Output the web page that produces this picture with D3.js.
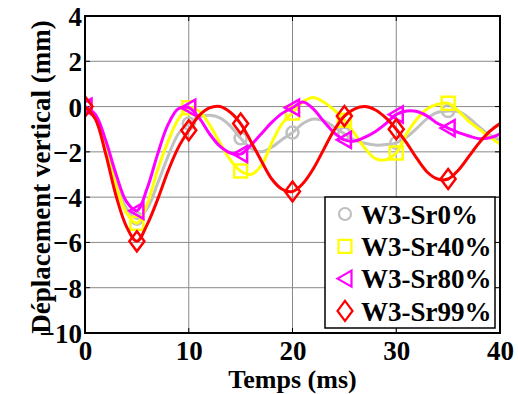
<!DOCTYPE html>
<html><head><meta charset="utf-8">
<script src="https://cdn.jsdelivr.net/npm/d3@7"></script>
<style>body{margin:0;background:#fff} svg{display:block}</style>
</head><body><svg id="c" width="518" height="394"></svg>
<script>
// ---- data ----
const time = [0,1,2,3,4,5,6,7,8,9,10,11,12,13,14,15,16,17,18,19,20,21,22,23,24,25,26,27,28,29,30,31,32,33,34,35,36,37,38,39,40];
const sr0  = [0,-0.5,-1.9,-3.4,-4.5,-4.95,-4.5,-3.4,-2.2,-1.2,-0.75,-0.45,-0.38,-0.5,-0.85,-1.4,-1.85,-2.0,-1.8,-1.45,-1.15,-0.75,-0.55,-0.62,-0.9,-1.2,-1.48,-1.62,-1.7,-1.68,-1.6,-1.35,-0.95,-0.52,-0.25,-0.2,-0.22,-0.5,-0.9,-1.25,-1.47];
const sr40 = [0,-0.5,-1.9,-3.5,-4.7,-5.15,-4.3,-2.8,-1.55,-0.55,-0.05,-0.2,-0.8,-1.6,-2.35,-2.85,-3.0,-2.6,-1.6,-0.75,-0.28,0.2,0.4,0.2,-0.15,-0.6,-1.2,-1.85,-2.3,-2.35,-2.05,-1.2,-0.55,-0.1,0.1,0.15,-0.2,-0.65,-1.0,-1.35,-1.65];
const sr80 = [0,-0.35,-1.5,-3.0,-4.2,-4.6,-3.6,-2.1,-0.8,-0.1,-0.05,-0.5,-1.2,-1.75,-2.05,-2.1,-1.7,-1.2,-0.7,-0.3,-0.05,0.2,-0.1,-0.65,-1.15,-1.47,-1.52,-1.35,-1.1,-0.75,-0.35,-0.2,-0.22,-0.42,-0.75,-0.95,-1.15,-1.3,-1.42,-1.38,-1.2];
const sr99 = [0,-0.55,-2.1,-3.95,-5.3,-5.95,-5.2,-4.1,-2.85,-1.8,-1.05,-0.4,-0.06,0,-0.25,-0.75,-1.55,-2.4,-3.2,-3.65,-3.75,-3.4,-2.75,-1.9,-1.05,-0.42,-0.1,0,-0.15,-0.5,-1.0,-1.6,-2.3,-2.9,-3.2,-3.2,-2.8,-2.2,-1.6,-1.1,-0.75];
const markerTimes = [0,5,10,15,20,25,30,35];
const seriesNames = ["W3-Sr0%","W3-Sr40%","W3-Sr80%","W3-Sr99%"];
const seriesColors = ["#c0c0c0","#ffff00","#ff00ff","#ff0000"];
const seriesMarkers = ["circle","square","triangle","diamond"];
const xTicks = [0,10,20,30,40];
const yTicks = [-10,-8,-6,-4,-2,0,2,4];
const xLabel = "Temps (ms)";
const yLabel = "Déplacement vertical (mm)";

// ---- layout ----
const L = 85, R = 500, T = 16, B = 333;
const FAM = '"Liberation Serif"';
const svg = d3.select("#c");
const x = d3.scaleLinear().domain([0,40]).range([L,R]);
const y = d3.scaleLinear().domain([-10,4]).range([B,T]);
function txt(sel, size) {
  return sel.style("font-family", FAM).style("font-weight", "bold").style("font-size", size + "px").attr("fill", "#000");
}

// grid
const g = svg.append("g");
g.selectAll("line.vg").data(xTicks).join("line")
  .attr("x1", d=>x(d)).attr("x2", d=>x(d)).attr("y1", T).attr("y2", B)
  .attr("stroke", "#8a8a8a").attr("stroke-width", 1);
g.selectAll("line.hg").data(yTicks).join("line")
  .attr("y1", d=>y(d)).attr("y2", d=>y(d)).attr("x1", L).attr("x2", R)
  .attr("stroke", "#8a8a8a").attr("stroke-width", 1);

// axes labels via d3 axes
const xa = svg.append("g").attr("transform", `translate(0,${B})`)
  .call(d3.axisBottom(x).tickValues(xTicks).tickSize(0).tickPadding(0).tickFormat(d3.format("d")));
const ya = svg.append("g").attr("transform", `translate(${L},0)`)
  .call(d3.axisLeft(y).tickValues(yTicks).tickSize(0).tickPadding(3).tickFormat(d3.format("d")));
[xa, ya].forEach(a => {
  a.select(".domain").remove();
  txt(a.selectAll("text"), 27);
});
xa.selectAll("text").attr("y", 27).attr("dy", null);
ya.selectAll("text").attr("dy", "0.35em");

// inward ticks on all sides
const tk = svg.append("g").attr("stroke", "#000").attr("stroke-width", 1);
xTicks.forEach(d => {
  tk.append("line").attr("x1", x(d)).attr("x2", x(d)).attr("y1", B).attr("y2", B-5);
  tk.append("line").attr("x1", x(d)).attr("x2", x(d)).attr("y1", T).attr("y2", T+5);
});
yTicks.forEach(d => {
  tk.append("line").attr("y1", y(d)).attr("y2", y(d)).attr("x1", L).attr("x2", L+5);
  tk.append("line").attr("y1", y(d)).attr("y2", y(d)).attr("x1", R).attr("x2", R-5);
});

// clip
svg.append("clipPath").attr("id", "clip").append("rect")
  .attr("x", L).attr("y", T).attr("width", R-L).attr("height", B-T);

const allSeries = [sr0, sr40, sr80, sr99];
const line = d3.line().x((d,i)=>x(time[i])).y(d=>y(d)).curve(d3.curveCatmullRom.alpha(0.5));

function markerPath(type) {
  switch (type) {
    case "circle": return d3.symbol().type(d3.symbolCircle).size(Math.PI*6*6)();
    case "square": return "M-6.5,-6.5L6.5,-6.5L6.5,6.5L-6.5,6.5Z";
    case "triangle": return "M-7.5,0L6.5,-8L6.5,8Z";
    case "diamond": return "M0,-10L7.5,0L0,10L-7.5,0Z";
  }
}

const plot = svg.append("g").attr("clip-path", "url(#clip)");
allSeries.forEach((s, k) => {
  const sg = plot.append("g");
  sg.append("path").datum(s).attr("d", line).attr("fill", "none")
    .attr("stroke", seriesColors[k]).attr("stroke-width", 3).attr("stroke-linejoin", "round");
  sg.selectAll("path.m").data(markerTimes).join("path")
    .attr("transform", t => `translate(${x(t)},${y(s[time.indexOf(t)])})`)
    .attr("d", markerPath(seriesMarkers[k]))
    .attr("fill", "none").attr("stroke", seriesColors[k]).attr("stroke-width", 2.5);
});

// frame
svg.append("rect").attr("x", L).attr("y", T).attr("width", R-L).attr("height", B-T)
  .attr("fill", "none").attr("stroke", "#000").attr("stroke-width", 2);

// axis titles
txt(svg.append("text").attr("x", (L+R)/2).attr("y", 388).attr("text-anchor", "middle"), 26).text(xLabel);
txt(svg.append("text").attr("transform", "translate(50,177) rotate(-90)").attr("text-anchor", "middle"), 27).text(yLabel);

// legend
const lg = svg.append("g");
lg.append("rect").attr("x", 325).attr("y", 197).attr("width", 170).attr("height", 131)
  .attr("fill", "#fff").attr("stroke", "#000").attr("stroke-width", 1.5);
seriesNames.forEach((n, k) => {
  const cy = 214 + k*32.3;
  lg.append("path").attr("transform", `translate(345,${cy})`).attr("d", markerPath(seriesMarkers[k]))
    .attr("fill", "none").attr("stroke", seriesColors[k]).attr("stroke-width", 2.2);
  txt(lg.append("text").attr("x", 361).attr("y", cy).attr("dy", "0.36em"), 27).text(n);
});
</script></body></html>
